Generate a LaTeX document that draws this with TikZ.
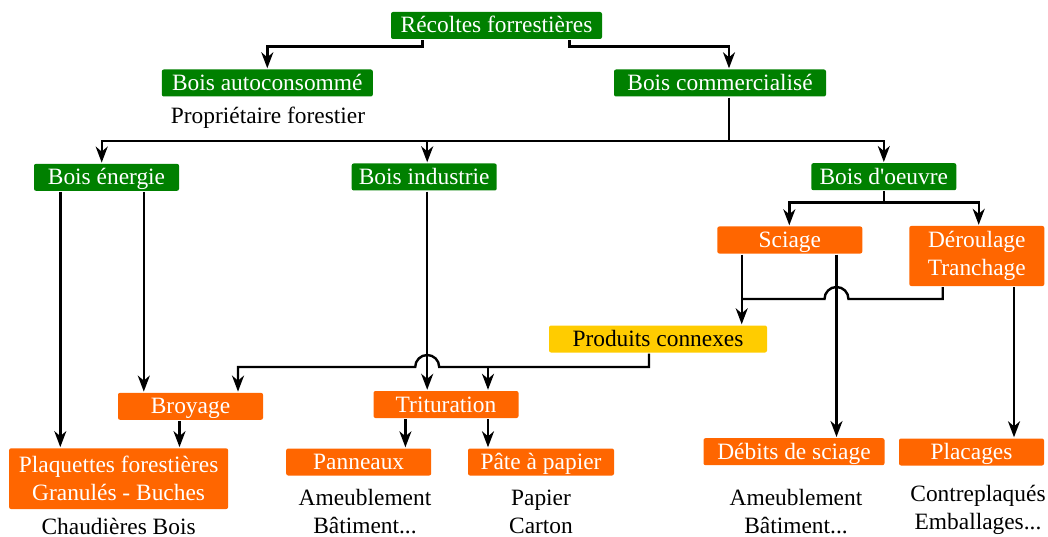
\documentclass[tikz,border=0pt]{standalone}
\usepackage{fontspec}
\setmainfont{Liberation Serif}[Ligatures=TeXOff]
\usetikzlibrary{arrows.meta}
\definecolor{vert}{HTML}{008000}
\definecolor{orng}{HTML}{FF6600}
\definecolor{jaune}{HTML}{FFCC00}
\newcommand\myfs{\fontsize{23.4}{28}\selectfont}
\tikzset{
  box/.style={rectangle, rounded corners=2pt, inner sep=0pt, minimum height=27pt, font=\myfs, align=center},
  one/.style={text height=17pt, text depth=2pt},
  gbox/.style={box, one, fill=vert, text=white},
  obox/.style={box, one, fill=orng, text=white},
  obox2/.style={box, fill=orng, text=white, minimum height=60pt},
  ybox/.style={box, one, fill=jaune, text=black},
  lbl/.style={font=\myfs, align=center, inner sep=0pt},
  arr/.style={-{Stealth[length=16pt,width=12pt,inset=5pt]}},
}
\begin{document}
\begin{tikzpicture}[x=1pt, y=-1pt, line width=2.4pt]
\useasboundingbox (0,0) rectangle (1048,537);
% nodes
\node[gbox, minimum width=211pt] (rec) at (496.5,25.5) {Récoltes forrestières};
\node[gbox, minimum width=211pt] (bauto) at (267.3,83) {Bois autoconsommé};
\node[gbox, minimum width=212pt] (bcom) at (720,83) {Bois commercialisé};
\node[lbl, anchor=base] (prop) at (268,124) {Propriétaire forestier};
\node[gbox, minimum width=145pt] (ben) at (106.5,177.3) {Bois énergie};
\node[gbox, minimum width=145pt] (bind) at (424.2,177) {Bois industrie};
\node[gbox, minimum width=145pt] (boe) at (883.8,176.7) {Bois d'oeuvre};
\node[obox, minimum width=145pt] (sci) at (789.8,240) {Sciage};
\node[obox2, minimum width=135pt] (der) at (976.8,256) {Déroulage\\Tranchage};
\node[ybox, minimum width=218pt] (pc) at (658,339) {Produits connexes};
\node[obox, minimum width=145pt] (brc) at (190.5,406.3) {Broyage};
\node[obox, minimum width=145pt] (trit) at (446,404.5) {Trituration};
\node[obox2, minimum width=219pt, minimum height=60.7pt] (plaq) at (118.6,478.7) {Plaquettes forestières\\Granulés - Buches};
\node[obox, minimum width=145pt] (pan) at (358.7,462) {Panneaux};
\node[obox, minimum width=146pt] (pate) at (541,462) {Pâte à papier};
\node[obox, minimum width=181pt] (deb) at (794,451.7) {Débits de sciage};
\node[obox, minimum width=145pt] (plac) at (971.5,452) {Placages};
\node[lbl, anchor=base] (chaud) at (118.6,534) {Chaudières Bois};
\node[lbl] (ameub1) at (365,511.5) {Ameublement\\Bâtiment...};
\node[lbl] (papier) at (541,511.5) {Papier\\Carton};
\node[lbl] (ameub2) at (796,512) {Ameublement\\Bâtiment...};
\node[lbl] (contre) at (978,509.5) {Contreplaqués\\Emballages...};
% connectors
\draw[arr] ([xshift=-74pt]rec.south) -- ++(0,6.5) -| (bauto.north);
\draw[arr] ([xshift=73pt]rec.south) -- ++(0,6.5) -| ([xshift=9pt]bcom.north);
\draw ([xshift=9pt]bcom.south) -- ++(0,43.5) coordinate (j1);
\draw[arr] (j1) -| ([xshift=-4.8pt]ben.north);
\draw[arr] (j1) -| ([xshift=3pt]bind.north);
\draw[arr] (j1) -| (boe.north);
\draw[arr] (ben.south -| 60.3,0) -- (plaq.north -| 60.3,0);
\draw[arr] (ben.south -| 143.8,0) -- (brc.north -| 143.8,0);
\draw[arr] (brc.south -| 179.5,0) -- (plaq.north -| 179.5,0);
\draw[arr] (bind.south -| 427.2,0) -- (trit.north -| 427.2,0);
\draw[arr] (trit.south -| 405.4,0) -- (pan.north -| 405.4,0);
\draw[arr] (trit.south -| 488,0) -- (pate.north -| 488,0);
\draw (boe.south) -- ++(0,11.2) coordinate (j2);
\draw[arr] (j2) -| (sci.north -| 789.3,0);
\draw[arr] (j2) -| (der.north -| 978.7,0);
\draw[arr] (sci.south -| 741.7,0) -- (pc.north -| 741.7,0);
\draw[arr] (sci.south -| 836.5,0) -- (deb.north -| 836.5,0);
\draw (der.south -| 942.7,0) -- (942.7,299) -- (848.5,299) arc[start angle=0,end angle=180,radius=12pt] -- (741.7,299);
\draw[arr] (der.south -| 1014,0) -- (plac.north -| 1014,0);
\draw[arr] (pc.south -| 649,0) -- (649,367) -- (439.2,367) arc[start angle=0,end angle=180,radius=12pt] -- (238,367) -- (brc.north -| 238,0);
\coordinate (j4) at (488,367);
\draw[arr] (j4) -- (trit.north -| 488,0);
\end{tikzpicture}
\end{document}
